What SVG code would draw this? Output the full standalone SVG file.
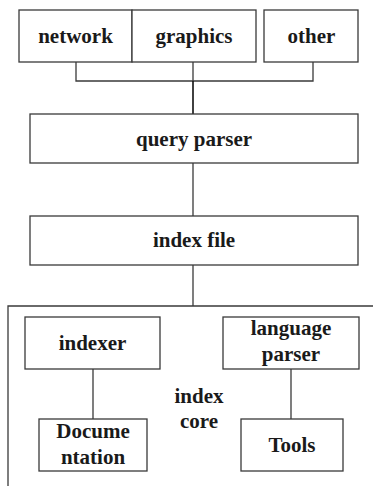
<svg xmlns="http://www.w3.org/2000/svg" width="373" height="486" viewBox="0 0 373 486">
<style>
.box{fill:#fff;stroke:#3a3a3a;stroke-width:1.3}
text{font-family:'Liberation Serif','Times New Roman','DejaVu Serif',serif;font-weight:700;font-size:21px;fill:#1a1a1a;text-anchor:middle}
.c{fill:none;stroke:#3a3a3a;stroke-width:1.3}
.k{fill:none;stroke:#111;stroke-width:1.6}
</style>
<rect width="373" height="486" fill="#fff"/>
<g id="connectors">
<polyline class="c" points="76,62 76,81 313,81 313,62"/>
<line class="c" x1="193" y1="62" x2="193" y2="81"/>
<line class="k" x1="193" y1="81" x2="193" y2="114"/>
<line class="c" x1="193" y1="163" x2="193" y2="216"/>
<line class="c" x1="193" y1="265" x2="193" y2="306"/>
<line class="c" x1="93" y1="369" x2="93" y2="419"/>
<line class="c" x1="291" y1="369" x2="291" y2="419"/>
</g>
<g id="index-core">
<polyline class="c" points="373,306 8,306 8,486" stroke="#111"/>
<text font-family="Liberation Serif, serif" x="199" y="403">index</text>
<text font-family="Liberation Serif, serif" x="199" y="428">core</text>
</g>
<g id="network"><rect class="box" x="19" y="10" width="113" height="52"/><text font-family="Liberation Serif, serif" x="75.5" y="43">network</text></g>
<g id="graphics"><rect class="box" x="132" y="10" width="124" height="52"/><text font-family="Liberation Serif, serif" x="194" y="43">graphics</text></g>
<g id="other"><rect class="box" x="264" y="10" width="94" height="52"/><text font-family="Liberation Serif, serif" x="311.5" y="43">other</text></g>
<g id="query-parser"><rect class="box" x="30" y="114" width="328" height="49"/><text font-family="Liberation Serif, serif" x="194" y="145.5">query parser</text></g>
<g id="index-file"><rect class="box" x="30" y="216" width="328" height="49"/><text font-family="Liberation Serif, serif" x="194" y="246.5">index file</text></g>
<g id="indexer"><rect class="box" x="25" y="317" width="135" height="52"/><text font-family="Liberation Serif, serif" x="92.5" y="350">indexer</text></g>
<g id="language-parser"><rect class="box" x="223" y="317" width="136" height="52"/><text font-family="Liberation Serif, serif" x="291" y="335">language</text><text font-family="Liberation Serif, serif" x="291" y="361">parser</text></g>
<g id="documentation"><rect class="box" x="39" y="419" width="108" height="52"/><text font-family="Liberation Serif, serif" x="93" y="438">Docume</text><text font-family="Liberation Serif, serif" x="93" y="464">ntation</text></g>
<g id="tools"><rect class="box" x="241" y="419" width="102" height="52"/><text font-family="Liberation Serif, serif" x="292" y="452">Tools</text></g>
</svg>
